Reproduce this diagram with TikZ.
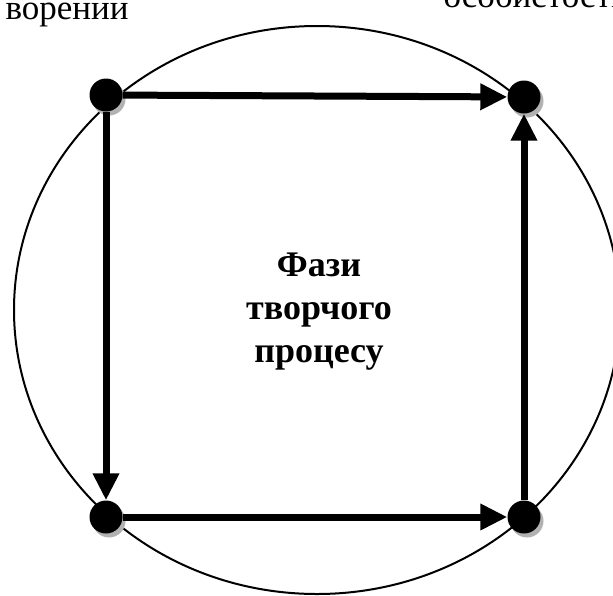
\documentclass[tikz,border=0pt]{standalone}
\usepackage{fontspec}
\setmainfont{Liberation Serif}
\usetikzlibrary{arrows.meta,shadows}

\begin{document}
\begin{tikzpicture}[x=1pt,y=-1pt,
    phase/.style={circle,fill=black,inner sep=0pt,minimum size=33pt,
        drop shadow={shadow xshift=3pt,shadow yshift=-4pt,fill=black!30,opacity=1}},
    link/.style={line width=7pt,-{Triangle[length=27pt,width=25pt]}},
    caption/.style={font=\fontsize{35}{40}\selectfont}]
    \clip (0,0) rectangle (613,595);
    \draw[line width=2pt] (317,310) ellipse [x radius=303, y radius=284];

    \node[caption,anchor=base west] (tl) at (2,19) {ворении};
    \node[caption,anchor=base west] (tr) at (440,7) {особистості};

    \node[phase] (v1) at (106,95) {};
    \node[phase] (v2) at (524,97) {};
    \node[phase] (v3) at (106,517) {};
    \node[phase] (v4) at (524,517) {};

    \draw[link] (v1) -- (v2);
    \draw[link] (v1) -- (v3);
    \draw[link] (v3) -- (v4);
    \draw[link] (v4) -- (v2);

    \node[caption,font=\fontsize{36}{43}\selectfont\bfseries,align=center] (phases) at (319,312)
        {Фази\\творчого\\процесу};
\end{tikzpicture}
\end{document}
